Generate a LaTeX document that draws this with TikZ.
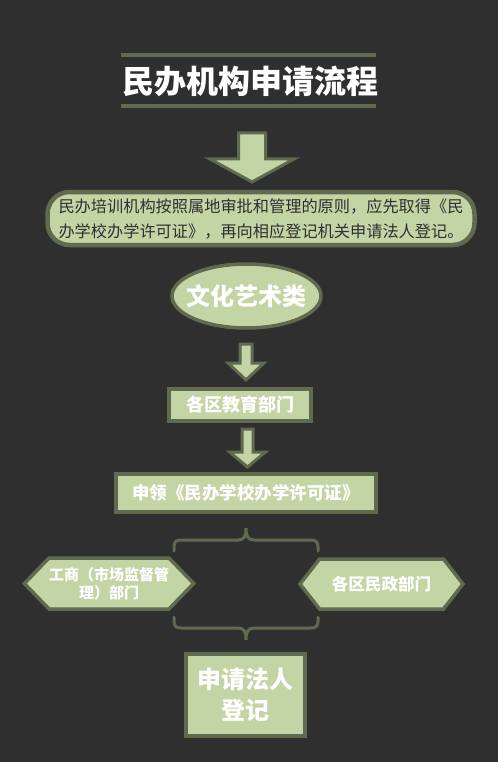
\documentclass[tikz,border=0pt]{standalone}
\usepackage{fontspec}
\setmainfont{Noto Sans CJK SC}
\usetikzlibrary{shapes.geometric,shapes.symbols}

\definecolor{bgdark}{HTML}{2F2F2F}
\definecolor{leaf}{HTML}{C3D4A5}
\definecolor{moss}{HTML}{5F6A4E}

\tikzset{
  greenbox/.style={draw=moss, fill=leaf, line width=3.5pt, text=white, align=center, inner sep=0pt},
  hexbox/.style={greenbox, signal, signal to=west and east},
  brace/.style={draw=moss, line width=3pt, line cap=round},
}
% block arrow: x, top, shaft half, head y, head half, tip
\newcommand{\downarr}[6]{%
  \draw[moss, fill=leaf, line width=3pt] (#1-#3,#2) -- (#1+#3,#2) -- (#1+#3,#4) -- (#1+#5,#4)
    -- (#1,#6) -- (#1-#5,#4) -- (#1-#3,#4) -- cycle;}

\begin{document}
\begin{tikzpicture}[x=1pt, y=-1pt]
  \fill[bgdark] (0,0) rectangle (498,762);
  \useasboundingbox (0,0) rectangle (498,762);

  % title
  \draw[moss, line width=4pt] (121,55) -- (376,55);
  \draw[moss, line width=4pt] (121,106) -- (376,106);
  \node[text=white, font=\fontsize{32}{38}\selectfont\bfseries] (title) at (250,81) {民办机构申请流程};

  \downarr{252}{133}{13.5}{159}{42}{182}

  \node[greenbox, line width=4.5pt, rounded corners=22pt, minimum width=427pt, minimum height=53pt, text=bgdark,
    font=\fontsize{16.2}{25}\selectfont] (rule) at (261,218.5)
    {民办培训机构按照属地审批和管理的原则，应先取得《民\\办学校办学许可证》，再向相应登记机关申请法人登记。};

  \node[greenbox, ellipse, minimum width=149pt, minimum height=64pt,
    font=\fontsize{24}{28}\selectfont\bfseries] (art) at (246.5,296) {\makebox[0pt]{文化艺术类}};

  \downarr{246}{344}{6}{363}{18}{380}

  \node[greenbox, minimum width=142pt, minimum height=32pt,
    font=\fontsize{18}{22}\selectfont\bfseries] (edu) at (240,405) {各区教育部门};

  \downarr{247.5}{429}{5.5}{452}{18}{467}

  \node[greenbox, minimum width=260pt, minimum height=38pt,
    font=\fontsize{17.5}{21}\selectfont\bfseries] (lic) at (246,493) {申领《民办学校办学许可证》};

  % braces
  \draw[brace] (174,551) -- (174,547) .. controls (174,542) and (176,540) .. (181,540) -- (238,540)
    .. controls (244,540) and (246,536) .. (246,528) .. controls (246,536) and (248,540) .. (254,540)
    -- (311,540) .. controls (316,540) and (318,542) .. (318,547) -- (318,551);
  \draw[brace] (174,617) -- (174,621) .. controls (174,626) and (176,628) .. (181,628) -- (238,628)
    .. controls (244,628) and (246,632) .. (246,640) .. controls (246,632) and (248,628) .. (254,628)
    -- (311,628) .. controls (316,628) and (318,626) .. (318,621) -- (318,617);

  \node[hexbox, signal pointer angle=92, minimum width=168pt, minimum height=51pt,
    font=\fontsize{15}{18}\selectfont\bfseries] (biz) at (109,583.5) {工商（市场监督管\\理）部门};
  \node[hexbox, signal pointer angle=104, minimum width=163pt, minimum height=50pt,
    font=\fontsize{16.6}{20}\selectfont\bfseries] (civ) at (381.5,584) {各区民政部门};

  \node[greenbox, minimum width=119pt, minimum height=82pt,
    font=\fontsize{24}{31}\selectfont\bfseries] (reg) at (245.5,695) {申请法人\\登记};
\end{tikzpicture}
\end{document}
